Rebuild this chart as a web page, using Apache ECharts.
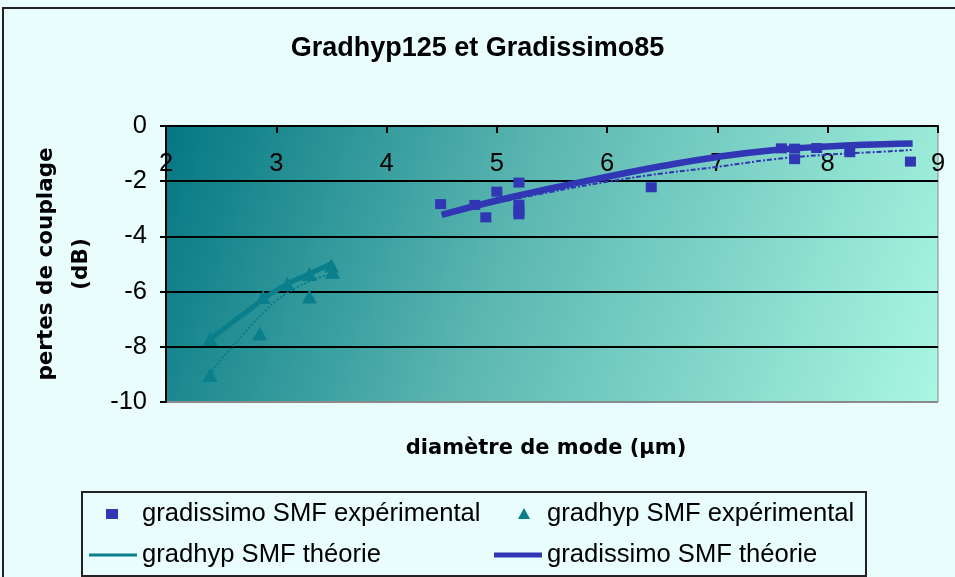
<!DOCTYPE html>
<html>
<head>
<meta charset="utf-8">
<script src="https://cdn.jsdelivr.net/npm/echarts@6/dist/echarts.min.js"></script>
<style>
html,body{margin:0;padding:0;background:#e9fdfd;}
#main{width:955px;height:577px;}
</style>
</head>
<body>
<div id="main"></div>
<script>
// ---- data ----
const titleText = 'Gradhyp125 et Gradissimo85';
const xName = 'diamètre de mode (µm)';
const yName = 'pertes de couplage\n(dB)';
const seriesNames = ['gradissimo SMF expérimental', 'gradhyp SMF expérimental', 'gradhyp SMF théorie', 'gradissimo SMF théorie'];

const gradissimoExp = [[4.49,-2.83],[4.80,-2.86],[4.90,-3.31],[5.00,-2.38],[5.20,-2.05],[5.20,-2.85],[5.20,-3.05],[5.20,-3.20],[6.40,-2.22],[7.58,-0.81],[7.70,-0.82],[7.70,-1.20],[7.90,-0.80],[8.20,-0.95],[8.75,-1.29]];
const gradhypExp = [[2.40,-9.02],[2.40,-7.72],[2.85,-7.52],[2.88,-6.20],[3.10,-5.72],[3.30,-6.18],[3.30,-5.36],[3.50,-5.05],[3.51,-5.28]];
const gradhypTheory = [[2.40,-7.72],[2.50,-7.42],[2.60,-7.12],[2.70,-6.82],[2.80,-6.52],[2.90,-6.20],[3.00,-5.96],[3.10,-5.72],[3.20,-5.53],[3.30,-5.35],[3.40,-5.17],[3.50,-4.98]];
const gradissimoTheory = [[4.50,-3.22],[5.00,-2.70],[5.50,-2.25],[6.00,-1.84],[6.50,-1.45],[7.00,-1.12],[7.50,-0.88],[8.00,-0.74],[8.50,-0.66],[8.77,-0.63]];
const gradhypTrend = [[2.40,-9.00],[2.50,-8.45],[2.60,-8.00],[2.70,-7.55],[2.80,-7.10],[2.90,-6.70],[3.00,-6.33],[3.10,-6.05],[3.20,-5.82],[3.30,-5.63],[3.40,-5.48],[3.50,-5.36]];
const gradissimoTrend = [[4.50,-3.20],[5.00,-2.78],[5.50,-2.38],[6.00,-2.02],[6.50,-1.72],[7.00,-1.48],[7.50,-1.21],[8.00,-1.04],[8.50,-0.93],[8.76,-0.87]];
const xTicks = {min:2, max:9, interval:1};
const yTicks = {min:-10, max:0, interval:2};

// ---- styles ----
const teal = '#0a7f8c';
const blue = '#3036b4';
const sqIcon = 'path://M0,0M48,14M17,2L29,2L29,12L17,12Z';
const triIcon = 'path://M0,0M48,14M30,1L36,12L24,12Z';
const thinLineIcon = 'path://M0,0M48,14M0,5.5L48,5.5L48,8.5L0,8.5Z';
const thickLineIcon = 'path://M0,0M48,14M0,4.5L48,4.5L48,9.5L0,9.5Z';

const chart = echarts.init(document.getElementById('main'), null, {renderer:'canvas'});
chart.setOption({
  backgroundColor: '#e9fdfd',
  animation: false,
  title: {
    text: titleText, left: 'center', top: 30,
    textStyle: {fontFamily: 'Liberation Sans', fontWeight: 'bold', fontSize: 27, color: '#000'}
  },
  grid: {
    left: 166, right: 17, top: 126, bottom: 175,
    show: true, borderColor: '#8a8a8a', borderWidth: 1,
    backgroundColor: {type:'linear', x:0, y:0, x2:1, y2:1, colorStops:[
      {offset:0, color:'#047783'}, {offset:0.45, color:'#5db8b2'}, {offset:1, color:'#aaf7e2'}]}
  },
  xAxis: {
    type: 'value', position: 'top', min: xTicks.min, max: xTicks.max, interval: xTicks.interval,
    axisLine: {show: true, onZero: false, lineStyle: {color: '#000', width: 2}},
    axisTick: {show: true, inside: true, length: 7, lineStyle: {color: '#000', width: 2}},
    axisLabel: {inside: true, margin: 25, fontFamily: 'Liberation Sans', fontSize: 25.5, color: '#000'},
    splitLine: {show: false}
  },
  yAxis: {
    type: 'value', min: yTicks.min, max: yTicks.max, interval: yTicks.interval,
    name: yName, nameLocation: 'middle', nameRotate: 90, nameGap: 57,
    nameTextStyle: {fontFamily: 'DejaVu Sans', fontWeight: 'bold', fontSize: 21.5, lineHeight: 35, color: '#000'},
    axisLine: {show: true, onZero: false, lineStyle: {color: '#000', width: 2}},
    axisTick: {show: true, length: 6, lineStyle: {color: '#000', width: 2}},
    axisLabel: {margin: 19, fontFamily: 'Liberation Sans', fontSize: 25.5, color: '#000'},
    splitLine: {show: true, lineStyle: {color: ['#8a8a8a','#000','#000','#000','#000','#000'], width: 2}}
  },
  legend: [
    {orient:'vertical', left: 89, top: 501, padding: 0, itemGap: 15, itemWidth: 48, itemHeight: 14,
     textStyle: {fontFamily:'Liberation Sans', fontSize: 25.6, lineHeight: 25, color:'#000'},
     data: [{name: seriesNames[0], icon: sqIcon}, {name: seriesNames[2], icon: thinLineIcon}]},
    {orient:'vertical', left: 494, top: 501, padding: 0, itemGap: 15, itemWidth: 48, itemHeight: 14,
     textStyle: {fontFamily:'Liberation Sans', fontSize: 25.6, lineHeight: 25, color:'#000'},
     data: [{name: seriesNames[1], icon: triIcon}, {name: seriesNames[3], icon: thickLineIcon}]}
  ],
  graphic: [
    {type:'rect', z: -10, shape:{x:3, y:8, width:960, height:580}, style:{fill:'none', stroke:'#222', lineWidth:2}},
    {type:'rect', z: -5, shape:{x:82, y:492, width:784, height:84}, style:{fill:'#e9fdfd', stroke:'#222', lineWidth:2}},
    {type:'text', x: 546, y: 449, style:{text: xName, textAlign:'center', textVerticalAlign:'middle',
      font: 'bold 21px "DejaVu Sans"', fill:'#000'}}
  ],
  series: [
    {name: seriesNames[3], type:'line', data: gradissimoTheory, symbol:'none', smooth: true,
     lineStyle:{color: blue, width: 6.5}, itemStyle:{color: blue}, z: 3},
    {name: 'tendance gradissimo', type:'line', data: gradissimoTrend, symbol:'none', smooth: true,
     lineStyle:{color: blue, width: 2, type: [5,2,2,2]}, z: 2},
    {name: seriesNames[2], type:'line', data: gradhypTheory, symbol:'none', smooth: true,
     lineStyle:{color: teal, width: 5}, itemStyle:{color: teal}, z: 3},
    {name: 'tendance gradhyp', type:'line', data: gradhypTrend, symbol:'none', smooth: true,
     lineStyle:{color: teal, width: 2, type: [2,2]}, z: 2},
    {name: seriesNames[0], type:'scatter', data: gradissimoExp, symbol:'rect', symbolSize: [11,10],
     itemStyle:{color: blue, opacity: 1}, z: 4},
    {name: seriesNames[1], type:'scatter', data: gradhypExp, symbol:'triangle', symbolSize: [15,14],
     itemStyle:{color: teal, opacity: 1}, z: 4}
  ]
});
</script>
</body>
</html>
